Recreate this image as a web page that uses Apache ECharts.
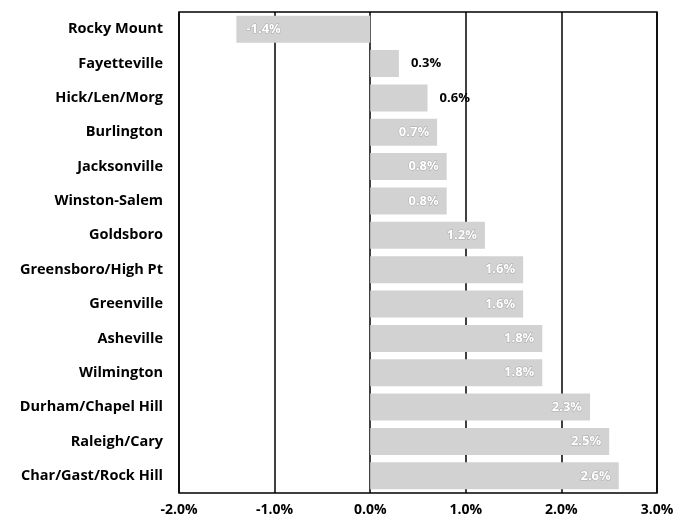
<!DOCTYPE html>
<html>
<head>
<meta charset="utf-8">
<script src="https://cdn.jsdelivr.net/npm/echarts@6/dist/echarts.min.js"></script>
<style>html,body{margin:0;padding:0;background:#fff}#c{width:686px;height:525px}</style>
</head>
<body>
<div id="c"></div>
<script>
var categories = ["Rocky Mount","Fayetteville","Hick/Len/Morg","Burlington","Jacksonville","Winston-Salem","Goldsboro","Greensboro/High Pt","Greenville","Asheville","Wilmington","Durham/Chapel Hill","Raleigh/Cary","Char/Gast/Rock Hill"];
var values = [-1.4, 0.3, 0.6, 0.7, 0.8, 0.8, 1.2, 1.6, 1.6, 1.8, 1.8, 2.3, 2.5, 2.6];
var outsideLabels = ["Fayetteville","Hick/Len/Morg"];
var xTicks = {min: -2, max: 3, interval: 1};

var font = "'Open Sans', Lato, sans-serif";
var data = values.map(function(v, i){
  var out = outsideLabels.indexOf(categories[i]) >= 0;
  var lab;
  if (out) {
    lab = {position: 'right', distance: 12, color: '#000', fontWeight: 'bold', fontSize: 13, fontFamily: font};
  } else if (v < 0) {
    lab = {position: 'insideLeft', distance: 10, color: '#fff', fontWeight: 'bold', fontSize: 13, fontFamily: font, textBorderColor: '#aaa', textBorderWidth: 1};
  } else {
    lab = {position: 'insideRight', distance: 8, color: '#fff', fontWeight: 'bold', fontSize: 13, fontFamily: font, textBorderColor: '#aaa', textBorderWidth: 1};
  }
  return {value: v, label: lab};
});

var chart = echarts.init(document.getElementById('c'));
chart.setOption({
  animation: false,
  grid: {left: 179, right: 29, top: 12, bottom: 32, show: true, borderColor: '#000', borderWidth: 1.5, backgroundColor: 'transparent'},
  xAxis: {
    type: 'value', min: xTicks.min, max: xTicks.max, interval: xTicks.interval,
    axisLine: {show: false}, axisTick: {show: false},
    splitLine: {show: true, lineStyle: {color: '#000', width: 1.5}},
    axisLabel: {color: '#000', fontWeight: 'bold', fontSize: 14, fontFamily: font, margin: 10,
      formatter: function(v){ return v.toFixed(1) + '%'; }}
  },
  yAxis: {
    type: 'category', data: categories, inverse: true,
    axisLine: {show: false}, axisTick: {show: false},
    axisLabel: {color: '#000', fontWeight: 'bold', fontSize: 14.5, fontFamily: font, margin: 16}
  },
  series: [{
    type: 'bar', data: data, barWidth: 27,
    itemStyle: {color: '#d2d2d2'},
    label: {show: true, formatter: function(p){ return p.value.toFixed(1) + '%'; }}
  }]
});
</script>
</body>
</html>
